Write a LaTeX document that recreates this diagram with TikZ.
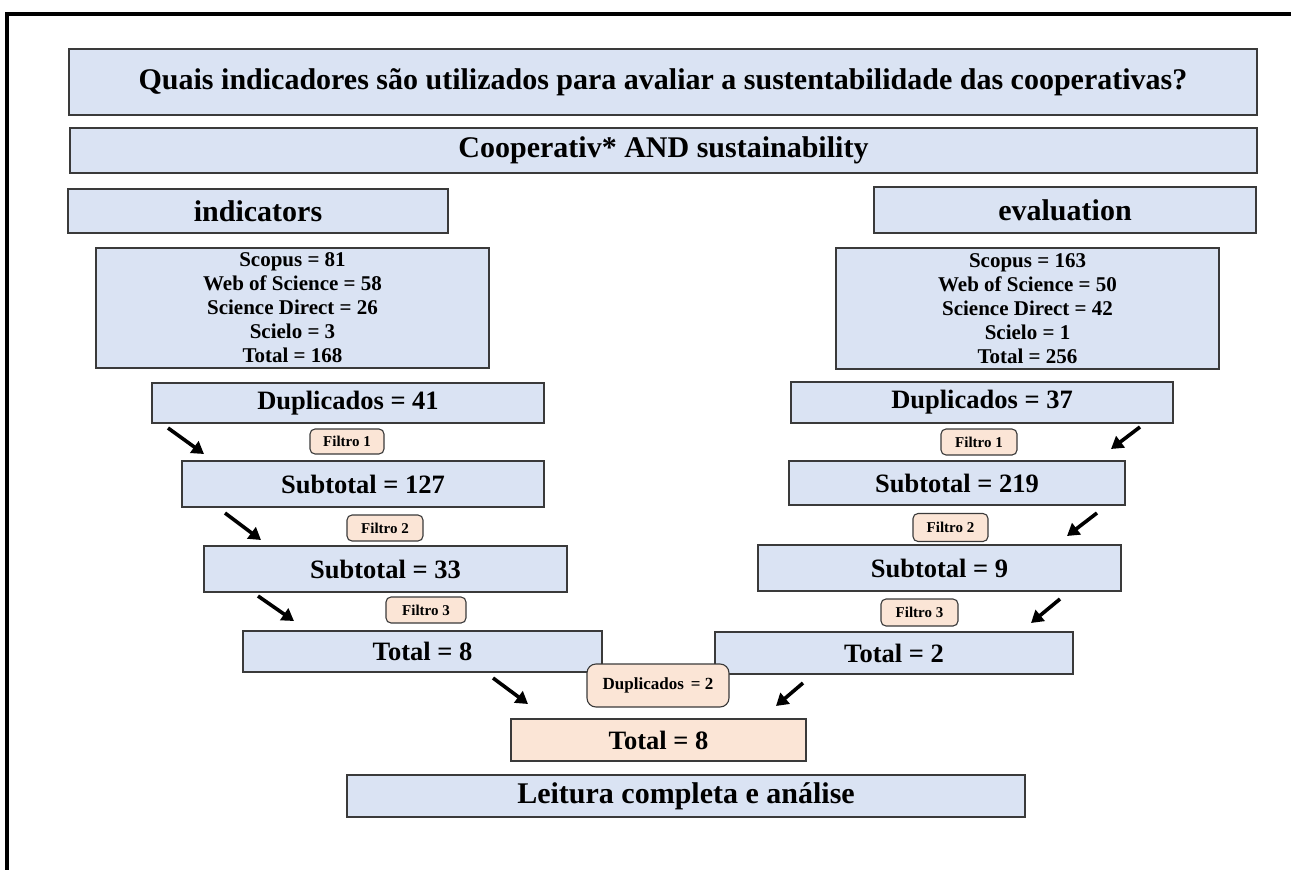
\documentclass[tikz,border=0pt]{standalone}
\usepackage{fontspec}
\setmainfont{Liberation Serif}
\usetikzlibrary{arrows.meta}

\definecolor{boxblue}{HTML}{DAE3F3}
\definecolor{boxpeach}{HTML}{FBE5D6}
\definecolor{edge}{HTML}{3A3A3A}

\begin{document}
\begin{tikzpicture}[x=1pt,y=-1pt,
    blk/.style={fill=boxblue,draw=edge,line width=1.3pt,inner sep=0pt,
      font=\fontsize{26.5}{30}\selectfont\bfseries},
    big/.style={blk,font=\fontsize{30}{34}\selectfont\bfseries},
    src/.style={blk,align=center,font=\fontsize{21}{24}\selectfont\bfseries},
    tag/.style={fill=boxpeach,draw=edge,line width=1.1pt,rounded corners=5pt,inner sep=0pt,
      font=\fontsize{15}{18}\selectfont\bfseries},
    flow/.style={line width=3.6pt,-{Triangle[length=12pt,width=14pt]}}]
  \useasboundingbox (0,0) rectangle (1291,870);
  \draw[line width=4pt] (7,870) -- (7,14) -- (1291,14);

  % question, search string and key words
  \draw
    (663,82) node[big,minimum width=1188pt,minimum height=66pt] (q){Quais indicadores são utilizados para avaliar a sustentabilidade das cooperativas?}
    (663.5,150.5) node[big,minimum width=1187pt,minimum height=45pt] (s){Cooperativ* AND sustainability}
    (258,211) node[big,minimum width=380pt,minimum height=44pt] (kA){indicators}
    (1065,210) node[big,minimum width=382pt,minimum height=46pt] (kB){evaluation};

  % databases
  \draw
    (292.5,308) node[src,minimum width=393pt,minimum height=120pt,text depth=-4pt] (dbA){Scopus = 81\\Web of Science = 58\\Science Direct = 26\\Scielo = 3\\Total = 168}
    (1027.5,308.5) node[src,minimum width=383pt,minimum height=121pt,text depth=-4pt] (dbB){Scopus = 163\\Web of Science = 50\\Science Direct = 42\\Scielo = 1\\Total = 256};

  % left funnel
  \draw
    (348,403) node[blk,minimum width=392pt,minimum height=40pt] (dA){Duplicados = 41}
    (363,484) node[blk,minimum width=362pt,minimum height=46pt] (sA1){Subtotal = 127}
    (385.5,569) node[blk,minimum width=363pt,minimum height=46pt] (sA2){Subtotal = 33}
    (422.5,651.5) node[blk,minimum width=359pt,minimum height=41pt] (tA){Total = 8};

  % right funnel
  \draw
    (982,402.5) node[blk,minimum width=382pt,minimum height=41pt] (dB){Duplicados = 37}
    (957,483) node[blk,minimum width=336pt,minimum height=44pt] (sB1){Subtotal = 219}
    (939.5,568) node[blk,minimum width=363pt,minimum height=46pt] (sB2){Subtotal = 9}
    (894,653) node[blk,minimum width=358pt,minimum height=42pt] (tB){Total = 2};

  % filters
  \draw
    (347,441.5) node[tag,minimum width=74pt,minimum height=25pt] (fA1){Filtro 1}
    (385,528) node[tag,minimum width=76pt,minimum height=26pt] (fA2){Filtro 2}
    (426,610) node[tag,minimum width=80pt,minimum height=26pt] (fA3){Filtro 3}
    (979,442) node[tag,minimum width=76pt,minimum height=26pt] (fB1){Filtro 1}
    (950.5,527.5) node[tag,minimum width=75pt,minimum height=28pt] (fB2){Filtro 2}
    (919.5,612.5) node[tag,minimum width=77pt,minimum height=27pt] (fB3){Filtro 3};

  % merge and reading
  \draw
    (658,685.5) node[tag,rounded corners=9pt,minimum width=142pt,minimum height=43pt,
      font=\fontsize{17}{20}\selectfont\bfseries] (d2){Duplicados \,= 2}
    (658.5,740) node[blk,fill=boxpeach,minimum width=295pt,minimum height=42pt] (tC){Total = 8}
    (686,796) node[big,minimum width=678pt,minimum height=42pt] (lt){Leitura completa e análise};

  % arrows
  \foreach \n/\xa/\ya/\xb/\yb in {1/168/428/204/454, 2/225/513/261/540, 3/258/596/294/621,
      4/493/678/528/704, 5/1140/427/1111/449, 6/1097/513/1067/536,
      7/1060/599/1031/623, 8/803/683/776/706}{
    \coordinate (t\n) at (\xa,\ya);
    \coordinate (h\n) at (\xb,\yb);
    \draw[flow] (t\n) -- (h\n);
  }
\end{tikzpicture}
\end{document}
